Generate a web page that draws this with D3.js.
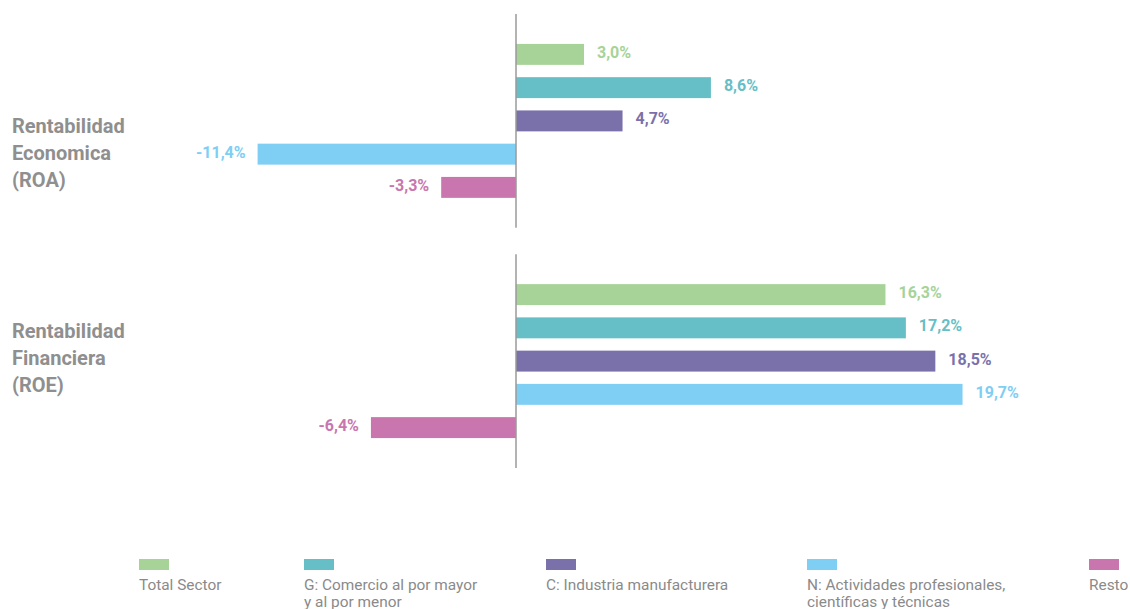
<!DOCTYPE html>
<html>
<head>
<meta charset="utf-8">
<script src="https://cdn.jsdelivr.net/npm/d3@7"></script>
<style>
  html, body { margin: 0; padding: 0; background: #ffffff; }
  svg { display: block; font-family: Roboto, "Noto Sans", sans-serif; }
</style>
</head>
<body>
<svg id="chart" width="1130" height="609"></svg>
<script>
// Ratios (in %) by sector, for return on assets and return on equity
const groups = ["ROA", "ROE"];
const groupLabels = [
  ["Rentabilidad", "Economica", "(ROA)"],
  ["Rentabilidad", "Financiera", "(ROE)"]
];
const sectors = ["Total Sector", "G", "C", "N", "Resto"];
const sectorNames = [
  ["Total Sector"],
  ["G: Comercio al por mayor", "y al por menor"],
  ["C: Industria manufacturera"],
  ["N: Actividades profesionales,", "científicas y técnicas"],
  ["Resto"]
];
const roaValues = [3.0, 8.6, 4.7, -11.4, -3.3];
const roeValues = [16.3, 17.2, 18.5, 19.7, -6.4];
const colors = ["#a7d398", "#66bfc6", "#7a71ab", "#7fcef3", "#c976ae"];

const svg = d3.select("#chart");
const fmt = v => d3.format(".1f")(v).replace("\u2212", "-").replace(".", ",") + "%";

const x = d3.scaleLinear().domain([-12, 24]).range([244, 1060]);

const yGroup = d3.scaleBand().domain(groups).range([14, 468]).paddingInner(0.11);
const yBar = d3.scaleBand().domain(sectors).range([0, yGroup.bandwidth()])
  .paddingInner(0.37).paddingOuter(0.9);

const values = { ROA: roaValues, ROE: roeValues };
const labelMid = { ROA: 160, ROE: 365 };

groups.forEach((g, gi) => {
  const top = yGroup(g);
  const gSel = svg.append("g").attr("transform", `translate(0,${top})`);

  const rows = sectors.map((s, i) => ({ s, v: values[g][i], c: colors[i] }));

  gSel.selectAll("rect.bar").data(rows).join("rect")
    .attr("class", "bar")
    .attr("x", d => x(Math.min(0, d.v)))
    .attr("width", d => Math.abs(x(d.v) - x(0)))
    .attr("y", d => yBar(d.s))
    .attr("height", yBar.bandwidth())
    .attr("fill", d => d.c);

  gSel.selectAll("text.val").data(rows).join("text")
    .attr("class", "val")
    .attr("x", d => d.v >= 0 ? x(d.v) + 13 : x(d.v) - 12)
    .attr("y", d => yBar(d.s) + yBar.bandwidth() / 2 + 3.5)
    .attr("text-anchor", d => d.v >= 0 ? "start" : "end")
    .attr("font-size", 16)
    .attr("font-weight", 700)
    .attr("fill", d => d.c)
    .text(d => fmt(d.v));

  // zero line
  gSel.append("line")
    .attr("x1", x(0)).attr("x2", x(0))
    .attr("y1", 0).attr("y2", yGroup.bandwidth())
    .attr("stroke", "#9a9a9a").attr("stroke-width", 1.5);

  // group label
  const lbl = svg.append("text")
    .attr("x", 12)
    .attr("y", labelMid[g] - 27)
    .attr("font-size", 20)
    .attr("font-weight", 700)
    .attr("fill", "#8f8f8f");
  groupLabels[gi].forEach((line, li) => {
    lbl.append("tspan").attr("x", 12).attr("dy", li === 0 ? 0 : 27).text(line);
  });
});

// legend
const legendX = [139, 304, 546, 807, 1089];
const legend = svg.append("g");
sectors.forEach((s, i) => {
  const item = legend.append("g").attr("transform", `translate(${legendX[i]},0)`);
  item.append("rect").attr("x", 0).attr("y", 559).attr("width", 30).attr("height", 11)
    .attr("fill", colors[i]);
  const t = item.append("text").attr("x", 0).attr("y", 590)
    .attr("font-size", 15.4).attr("fill", "#8a8a8a");
  sectorNames[i].forEach((line, li) => {
    t.append("tspan").attr("x", 0).attr("dy", li === 0 ? 0 : 17).text(line);
  });
});
</script>
</body>
</html>
